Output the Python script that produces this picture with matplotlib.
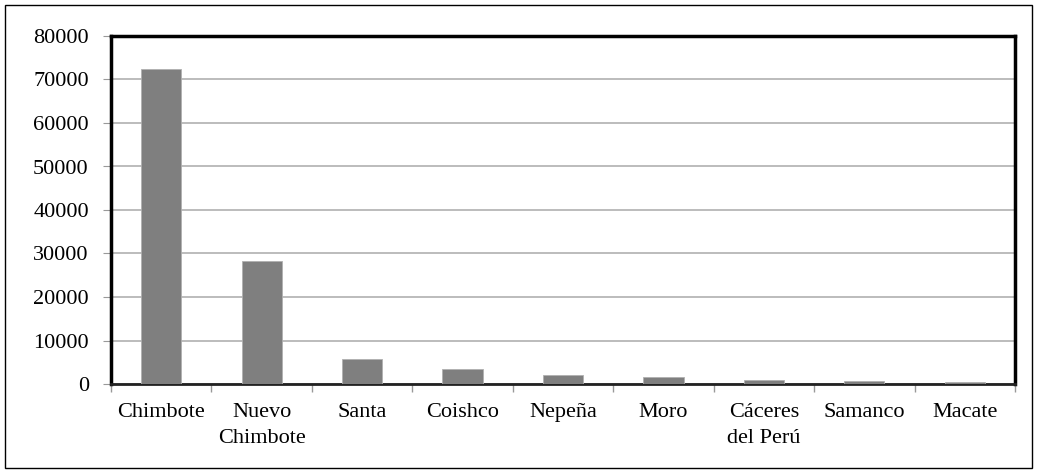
import numpy as np
import matplotlib.pyplot as plt
from matplotlib.patches import Rectangle

# districts and population values
districts = ['Chimbote', 'Nuevo\nChimbote', 'Santa', 'Coishco', 'Nepeña', 'Moro',
             'Cáceres\ndel Perú', 'Samanco', 'Macate']
population = [72400, 28300, 5700, 3400, 2100, 1500, 900, 800, 400]
y_ticks = [0, 10000, 20000, 30000, 40000, 50000, 60000, 70000, 80000]

plt.rcParams['font.family'] = ['Liberation Serif', 'DejaVu Serif']

fig = plt.figure(figsize=(10.37, 4.73), dpi=100)
ax = fig.add_axes([111 / 1037, 1 - 384 / 473, 904 / 1037, 348 / 473])

x = np.arange(len(districts))
ax.bar(x, population, width=0.4, color='#7f7f7f', edgecolor='#b0b0b0', linewidth=0.6, zorder=3)

ax.set_xlim(-0.5, len(districts) - 0.5)
ax.set_ylim(0, 80000)
ax.set_yticks(y_ticks)
ax.set_yticklabels([str(v) for v in y_ticks], fontsize=16)
ax.set_xticks(x)
ax.set_xticklabels(districts, fontsize=16, linespacing=1.45)
ax.tick_params(axis='x', length=0, pad=14)
ax.tick_params(axis='y', length=6, color='#999999', pad=10)
# category boundary ticks on the x axis
ax.set_xticks(np.arange(-0.5, len(districts)), minor=True)
ax.tick_params(axis='x', which='minor', length=6, color='#999999', width=1)

ax.grid(axis='y', color='#b0b0b0', linewidth=1.2, zorder=0)
for side in ['top', 'right', 'left']:
    ax.spines[side].set_linewidth(2.5)
    ax.spines[side].set_color('black')
ax.spines['bottom'].set_linewidth(2)
ax.spines['bottom'].set_color('#222222')

# thin frame around the whole chart
fig.patches.append(Rectangle((5 / 1037, 5 / 473), 1027 / 1037, 463 / 473, transform=fig.transFigure,
                             fill=False, edgecolor='black', linewidth=1))

fig.savefig('out.png', dpi=100)
